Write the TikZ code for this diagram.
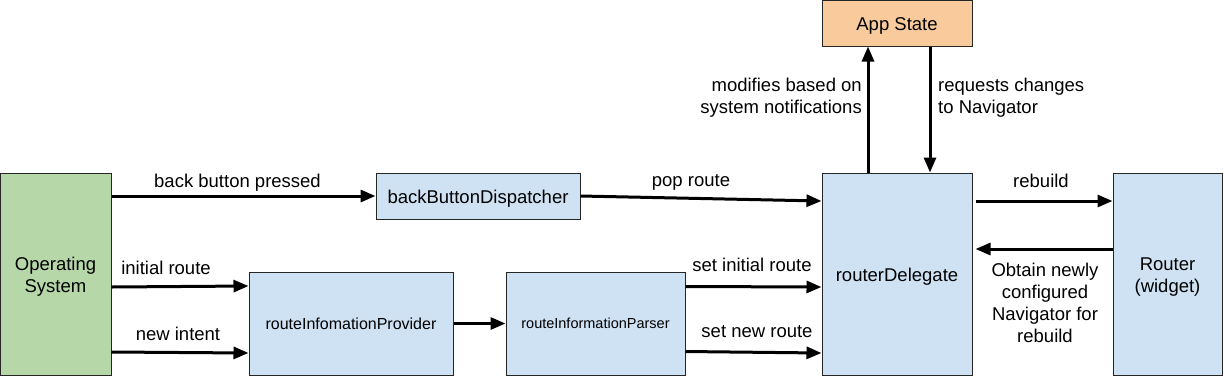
\documentclass[tikz,border=0pt]{standalone}
\usepackage{fontspec}
\setmainfont{Liberation Sans}
\usetikzlibrary{arrows.meta}
\definecolor{osgreen}{HTML}{B6D7A8}
\definecolor{boxblue}{HTML}{CFE2F3}
\definecolor{apporange}{HTML}{F9CB9C}
\newcommand\lowtxt[1]{\raisebox{-3pt}[\height][\depth]{\begin{tabular}{@{}c@{}}#1\end{tabular}}}
\tikzset{
  box/.style={draw=black!85, line width=1pt, inner sep=2pt, align=center, font=\fontsize{18.5}{22}\selectfont},
  arr/.style={line width=3pt, -{Triangle[length=15pt,width=12pt]}},
  lbl/.style={inner sep=0pt, font=\fontsize{18.5}{22}\selectfont},
}
\begin{document}
\begin{tikzpicture}[x=1pt,y=-1pt]
\useasboundingbox (0,0) rectangle (1223,376);
% boxes
\node[box, fill=osgreen, minimum width=111pt, minimum height=202pt] (os) at (55.5,274) {\lowtxt{Operating\\System}};
\node[box, fill=boxblue, minimum width=204pt, minimum height=46pt] (bbd) at (478,196) {\lowtxt{backButtonDispatcher}};
\node[box, fill=boxblue, minimum width=204pt, minimum height=103pt, font=\fontsize{16}{19}\selectfont] (prov) at (351,323.5) {routeInfomationProvider};
\node[box, fill=boxblue, minimum width=179pt, minimum height=103pt, font=\fontsize{14.5}{17}\selectfont] (pars) at (595.5,323.5) {routeInformationParser};
\node[box, fill=boxblue, minimum width=150pt, minimum height=202pt] (rd) at (897,274) {\lowtxt{routerDelegate}};
\node[box, fill=boxblue, minimum width=109pt, minimum height=202pt] (rt) at (1167.5,274) {\lowtxt{Router\\(widget)}};
\node[box, fill=apporange, minimum width=150pt, minimum height=46pt] (app) at (897,23) {\lowtxt{App State}};
% connectors
\draw[arr] (os.east |- bbd.west) -- (bbd.west);
\draw[arr] ([yshift=-13pt]os.east) -- ([yshift=37.5pt]prov.west);
\draw[arr] ([yshift=-78pt]os.east) -- ([yshift=-29.5pt]prov.west);
\draw[arr] (prov.east) -- (pars.west);
\draw[arr] (bbd.east) -- ([yshift=73pt]rd.west);
\draw[arr] ([yshift=37pt]pars.east) -- ([yshift=-13pt]rd.west);
\draw[arr] ([yshift=-28pt]pars.east) -- ([yshift=-79pt]rd.west);
\draw[arr] ([xshift=-29pt]rd.north) -- ([xshift=-29pt]app.south);
\draw[arr] ([xshift=33pt]app.south) -- ([xshift=33pt]rd.north);
\draw[arr] ([shift={(3pt,73pt)}]rd.east) -- ([yshift=73pt]rt.west);
\draw[arr] ([yshift=25pt]rt.west) -- ([shift={(3pt,25pt)}]rd.east);
% labels
\node[lbl] (l1) at (237.5,183) {back button pressed};
\node[lbl] (l2) at (166,268) {initial route};
\node[lbl] (l3) at (178,334) {new intent};
\node[lbl] (l4) at (691,182) {pop route};
\node[lbl] (l5) at (752,265) {set initial route};
\node[lbl] (l6) at (757,332) {set new route};
\node[lbl] (l7) at (1041,181) {rebuild};
\node[lbl, align=right, anchor=east] (l8) at (862,98) {modifies based on\\system notifications};
\node[lbl, align=left, anchor=west] (l9) at (938,98) {requests changes\\to Navigator};
\node[lbl, align=center] (l10) at (1045,303) {Obtain newly\\configured\\Navigator for\\rebuild};
\end{tikzpicture}
\end{document}
